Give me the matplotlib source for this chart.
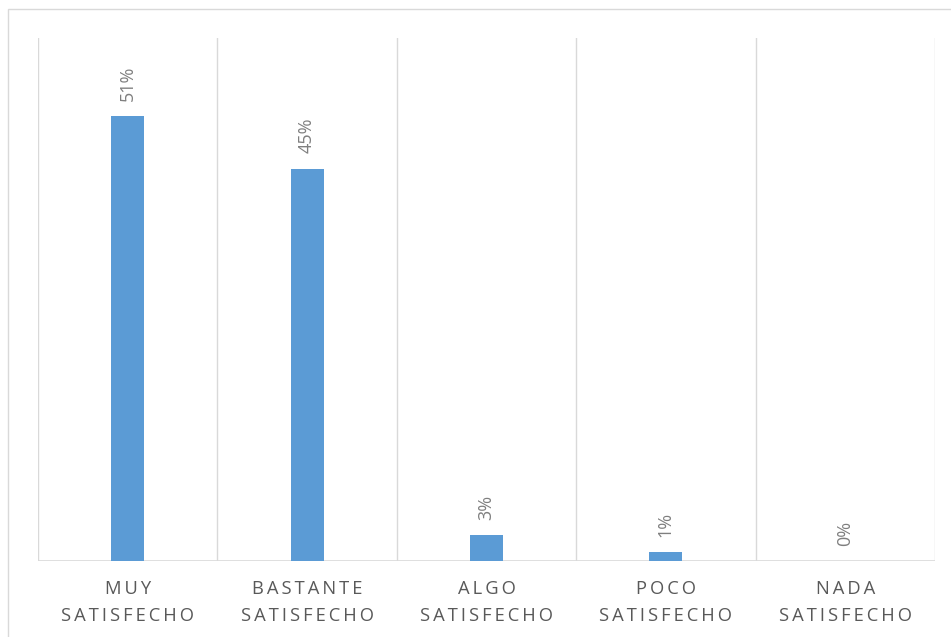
import matplotlib.pyplot as plt
from matplotlib.patches import Rectangle

# Survey results: share of respondents per satisfaction level
categorias = ['MUY\nSATISFECHO', 'BASTANTE\nSATISFECHO', 'ALGO\nSATISFECHO',
              'POCO\nSATISFECHO', 'NADA\nSATISFECHO']
porcentajes = [51, 45, 3, 1, 0]

plt.rcParams['font.family'] = ['Open Sans', 'DejaVu Sans']

def espaciado(texto):
    # widen the letters a little, line by line
    return '\n'.join('\u2009'.join(linea) for linea in texto.split('\n'))

fig = plt.figure(figsize=(9.51, 6.37), dpi=100)
W, H = 951, 637
ax = fig.add_axes([38 / W, (H - 561) / H, (935 - 38) / W, (561 - 38) / H])

x = range(len(categorias))
ax.bar(x, porcentajes, width=0.185, color='#5b9bd5', zorder=3)

ax.set_xlim(-0.5, len(categorias) - 0.5)
ax.set_ylim(0, 60)

# vertical separators between categories
for b in range(len(categorias) + 1):
    ax.axvline(b - 0.5, color='#d9d9d9', linewidth=1.0, zorder=1)
ax.axhline(0, color='#d9d9d9', linewidth=1.2, zorder=2)

for xi, v in zip(x, porcentajes):
    ax.annotate(f'{v}%', (xi, v), xytext=(0, 11), textcoords='offset points',
                rotation=90, ha='center', va='bottom', fontsize=13, color='#7f7f7f')

ax.set_xticks(list(x))
ax.set_xticklabels([espaciado(c) for c in categorias], fontsize=13.2,
                   color='#595959', linespacing=1.6)
ax.tick_params(axis='x', length=0, pad=14)
ax.set_yticks([])
for s in ax.spines.values():
    s.set_visible(False)

# light chart-area frame
fig.patches.append(Rectangle((8 / W, -0.2), 1.2, (H - 9) / H + 0.2,
                             transform=fig.transFigure, fill=False,
                             edgecolor='#d9d9d9', linewidth=1.0))

fig.savefig('out.png', dpi=100)
